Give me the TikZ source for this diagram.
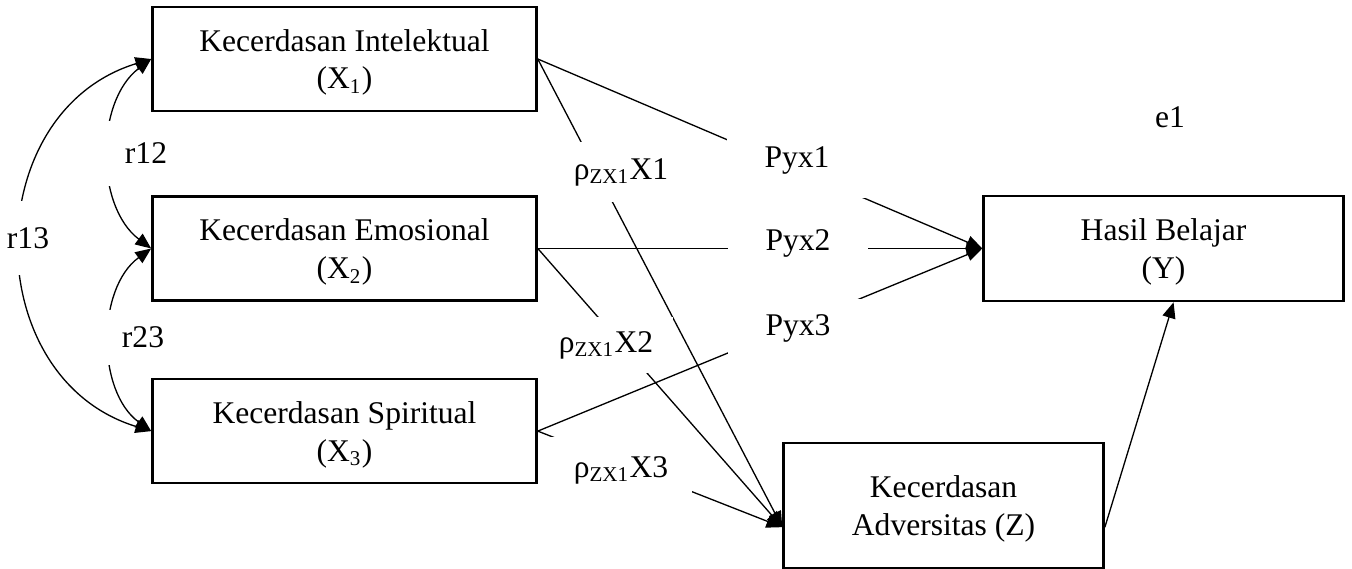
\documentclass[tikz,border=0pt]{standalone}
\usepackage{fontspec}
\setmainfont{Liberation Serif}
\usetikzlibrary{arrows.meta, positioning}
\tikzset{
  kotak/.style={rectangle, draw=black, line width=1pt, fill=white, align=center,
    inner sep=0pt, text depth=-1.5pt, font=\fontsize{12}{14.4}\selectfont},
  kotakx/.style={kotak, minimum width=145.9pt, minimum height=39.5pt},
  panah/.style={-{Triangle[length=6pt, width=5pt]}, line width=0.5pt},
  korelasi/.style={{Triangle[length=6pt, width=5pt]}-{Triangle[length=6pt, width=5pt]},
    line width=0.5pt},
  ket/.style={fill=white, inner sep=0pt, font=\fontsize{12}{14.4}\selectfont}
}

\begin{document}
\begin{tikzpicture}[x=0.38pt, y=0.38pt]
  \useasboundingbox (0,0) rectangle (1352,-568);
  \node[kotakx] (x1) at (344.5,-59) {Kecerdasan Intelektual\\(X\textsubscript{1})};
  \node[kotakx, below=31.5pt of x1] (x2) {Kecerdasan Emosional\\(X\textsubscript{2})};
  \node[kotakx, below=28.9pt of x2] (x3) {Kecerdasan Spiritual\\(X\textsubscript{3})};
  \node[kotak, minimum width=136.8pt, minimum height=39.9pt, right=168.9pt of x2] (y)
    {Hasil Belajar\\(Y)};
  \node[kotak, minimum width=121.6pt, minimum height=47.5pt, right=92.9pt of x3,
    yshift=-28.3pt] (z) {Kecerdasan\\Adversitas (Z)};
  \node[ket] (e1) at (1170,-117) {e1};

  \draw[korelasi] (x1.west) to[out=217, in=143, looseness=0.95] (x2.west);
  \draw[korelasi] (x2.west) to[out=216, in=144, looseness=0.95] (x3.west);
  \draw[korelasi] (x1.west) to[out=197, in=163, looseness=1.25] (x3.west);

  \draw[panah] (x1.east) -- (y.west);
  \draw[panah] (x2.east) -- (y.west);
  \draw[panah] (x3.east) -- (y.west);
  \draw[panah] (x1.east) -- ([yshift=-8.2pt]z.west);
  \draw[panah] (x2.east) -- ([yshift=-8.2pt]z.west);
  \draw[panah] (x3.east) -- ([yshift=-8.2pt]z.west);
  \draw[panah] ([yshift=-8.2pt]z.east) -- ([xshift=3.8pt]y.south);

  \node[ket, minimum width=36.5pt, minimum height=24.7pt] (r12) at (146,-153) {r12};
  \node[ket, minimum width=22.8pt, minimum height=28.1pt] (r13) at (28,-238) {r13};
  \node[ket, minimum width=36.5pt, minimum height=20.9pt] (r23) at (143,-337) {r23};
  \node[ket, minimum width=53.2pt, minimum height=28.9pt] (pyx1) at (797,-160) {Pyx1};
  \node[ket, minimum width=53.2pt, minimum height=19pt] (pyx2) at (798,-243) {Pyx2};
  \node[ket, minimum width=53.2pt, minimum height=22pt] (pyx3) at (798,-328) {Pyx3};
  \node[ket, minimum width=41.8pt, minimum height=22.8pt] (rzx1) at (621,-172)
    {ρ\textsubscript{ZX1}X1};
  \node[ket, minimum width=50.9pt, minimum height=21.3pt] (rzx2) at (606,-345)
    {ρ\textsubscript{ZX1}X2};
  \node[ket, minimum width=54pt, minimum height=25.1pt] (rzx3) at (621,-470)
    {ρ\textsubscript{ZX1}X3};
\end{tikzpicture}
\end{document}
